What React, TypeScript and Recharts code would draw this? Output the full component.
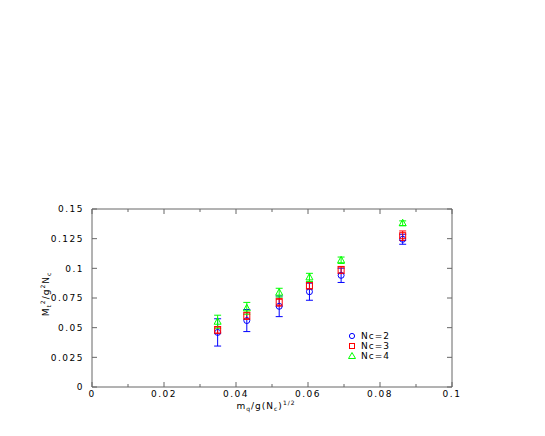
import React from "react";
import {
  ErrorBar,
  Legend,
  ReferenceArea,
  Scatter,
  ScatterChart,
  XAxis,
  YAxis,
} from "recharts";

// quark mass (x) shared by all three sets
const xValues = [0.0349, 0.043, 0.052, 0.0604, 0.0692, 0.0863];

const nc2Values = [0.046, 0.056, 0.068, 0.0803, 0.0941, 0.1245];
const nc2Errors = [0.0115, 0.0093, 0.0087, 0.0072, 0.006, 0.0042];

const nc3Values = [0.048, 0.06, 0.0714, 0.0854, 0.0986, 0.1275];
const nc3Errors = [0.003, 0.003, 0.0033, 0.003, 0.003, 0.004];

const nc4Values = [0.055, 0.0663, 0.0795, 0.0924, 0.1068, 0.138];
const nc4Errors = [0.0055, 0.005, 0.0037, 0.0034, 0.0027, 0.002];

const seriesNames = ["Nc=2", "Nc=3", "Nc=4"];

const xMajorTicks = [0, 0.02, 0.04, 0.06, 0.08, 0.1];
const xMinorTicks = [0.01, 0.03, 0.05, 0.07, 0.09];
const yTicks = [0, 0.025, 0.05, 0.075, 0.1, 0.125, 0.15];

const WIDTH = 545;
const HEIGHT = 436;
const PLOT_LEFT = 92;
const PLOT_RIGHT = 452;
const PLOT_TOP = 209;
const PLOT_BOTTOM = 387;

const FONT = "'DejaVu Sans', sans-serif";
const AXIS = "#666";
const BLUE = "#0000ff";
const RED = "#ff0000";
const GREEN = "#00ff00";

function toRows(values: number[], errors: number[]) {
  return xValues.map((x, i) => ({ x, y: values[i], err: errors[i] }));
}

const nc2Data = toRows(nc2Values, nc2Errors);
const nc3Data = toRows(nc3Values, nc3Errors);
const nc4Data = toRows(nc4Values, nc4Errors);

function fmt(v: number) {
  return String(Number(v.toFixed(3)));
}

function XTick(props: any) {
  const { x, y, payload } = props;
  const v = payload.value as number;
  const major = xMajorTicks.some((t) => Math.abs(t - v) < 1e-9);
  const len = major ? 5 : 3;
  return (
    <g>
      <line x1={x} x2={x} y1={PLOT_BOTTOM} y2={PLOT_BOTTOM - len} stroke={AXIS} />
      <line x1={x} x2={x} y1={PLOT_TOP} y2={PLOT_TOP + len} stroke={AXIS} />
      {major && (
        <text
          x={x}
          y={y}
          dy="0.71em"
          textAnchor="middle"
          fontFamily={FONT}
          fontSize={9}
          letterSpacing={1.5}
          fill="#000"
        >
          {fmt(v)}
        </text>
      )}
    </g>
  );
}

function YTick(props: any) {
  const { x, y, payload } = props;
  return (
    <g>
      <line x1={PLOT_LEFT} x2={PLOT_LEFT + 5} y1={y} y2={y} stroke={AXIS} />
      <line x1={PLOT_RIGHT} x2={PLOT_RIGHT - 5} y1={y} y2={y} stroke={AXIS} />
      <text
        x={x}
        y={y}
        dy="0.355em"
        textAnchor="end"
        fontFamily={FONT}
        fontSize={9}
        letterSpacing={1.5}
        fill="#000"
      >
        {fmt(payload.value)}
      </text>
    </g>
  );
}

function XTitle() {
  return (
    <text
      x={266}
      y={409}
      textAnchor="middle"
      fontFamily={FONT}
      fontSize={9}
      letterSpacing={1}
      fill="#000"
    >
      m<tspan fontSize={6} dy={2}>q</tspan>
      <tspan dy={-2}>/g(N</tspan>
      <tspan fontSize={6} dy={2}>c</tspan>
      <tspan dy={-2}>)</tspan>
      <tspan fontSize={6} dy={-4}>1/2</tspan>
    </text>
  );
}

function YTitle() {
  const cx = 49;
  const cy = 294;
  return (
    <text
      x={cx}
      y={cy}
      transform={`rotate(-90 ${cx} ${cy})`}
      textAnchor="middle"
      fontFamily={FONT}
      fontSize={9}
      letterSpacing={1}
      fill="#000"
    >
      M<tspan fontSize={6} dy={2}>t</tspan>
      <tspan fontSize={6} dy={-6}>2</tspan>
      <tspan dy={4}>/g</tspan>
      <tspan fontSize={6} dy={-4}>2</tspan>
      <tspan dy={4}>N</tspan>
      <tspan fontSize={6} dy={2}>c</tspan>
    </text>
  );
}

function CircleMark(props: any) {
  const { cx, cy } = props;
  return <circle cx={cx} cy={cy} r={3} fill="none" stroke={BLUE} strokeWidth={1} />;
}

function SquareMark(props: any) {
  const { cx, cy } = props;
  return (
    <rect x={cx - 3} y={cy - 3} width={6} height={6} fill="none" stroke={RED} strokeWidth={1} />
  );
}

function TriangleMark(props: any) {
  const { cx, cy } = props;
  return (
    <polygon
      points={`${cx},${cy - 4} ${cx + 3.5},${cy + 2.5} ${cx - 3.5},${cy + 2.5}`}
      fill="none"
      stroke={GREEN}
      strokeWidth={1}
    />
  );
}

function LegendIcon({ index }: { index: number }) {
  if (index === 0) {
    return <circle cx={4} cy={5} r={2.6} fill="none" stroke={BLUE} />;
  }
  if (index === 1) {
    return <rect x={1.5} y={2.5} width={5} height={5} fill="none" stroke={RED} />;
  }
  return <polygon points="4,1.5 7.5,7.5 0.5,7.5" fill="none" stroke={GREEN} />;
}

function LegendBox() {
  return (
    <div style={{ fontFamily: FONT, fontSize: 9, letterSpacing: 1, color: "#000" }}>
      {seriesNames.map((name, i) => (
        <div
          key={name}
          style={{ display: "flex", alignItems: "center", height: 10, lineHeight: "10px" }}
        >
          <svg width={8} height={10} style={{ display: "block" }}>
            <LegendIcon index={i} />
          </svg>
          <span style={{ marginLeft: 5, whiteSpace: "nowrap" }}>{name}</span>
        </div>
      ))}
    </div>
  );
}

export default function App() {
  return (
    <div style={{ position: "absolute", left: 0, top: 0, width: WIDTH, height: HEIGHT, background: "#fff" }}>
      <ScatterChart
        width={WIDTH}
        height={HEIGHT}
        margin={{ top: PLOT_TOP, right: WIDTH - PLOT_RIGHT, bottom: HEIGHT - PLOT_BOTTOM - 30, left: PLOT_LEFT - 60 }}
      >
        <XAxis
          type="number"
          dataKey="x"
          domain={[0, 0.1]}
          ticks={[...xMajorTicks, ...xMinorTicks].sort((a, b) => a - b)}
          interval={0}
          tick={<XTick />}
          tickLine={false}
          axisLine={false}
          tickSize={0}
          tickMargin={4}
          height={30}
          label={<XTitle />}
        />
        <YAxis
          type="number"
          dataKey="y"
          domain={[0, 0.15]}
          ticks={yTicks}
          interval={0}
          tick={<YTick />}
          tickLine={false}
          axisLine={false}
          tickSize={0}
          tickMargin={8}
          width={60}
          label={<YTitle />}
        />
        <ReferenceArea x1={0} x2={0.1} y1={0} y2={0.15} fill="none" stroke={AXIS} strokeWidth={1} />
        <Scatter name={seriesNames[0]} data={nc2Data} shape={CircleMark} isAnimationActive={false}>
          <ErrorBar dataKey="err" direction="y" width={3.5} stroke={BLUE} strokeWidth={1} isAnimationActive={false} />
        </Scatter>
        <Scatter name={seriesNames[1]} data={nc3Data} shape={SquareMark} isAnimationActive={false}>
          <ErrorBar dataKey="err" direction="y" width={3.5} stroke={RED} strokeWidth={1} isAnimationActive={false} />
        </Scatter>
        <Scatter name={seriesNames[2]} data={nc4Data} shape={TriangleMark} isAnimationActive={false}>
          <ErrorBar dataKey="err" direction="y" width={3.5} stroke={GREEN} strokeWidth={1} isAnimationActive={false} />
        </Scatter>
        <Legend
          layout="vertical"
          verticalAlign="middle"
          align="center"
          wrapperStyle={{ left: 348, top: 331, width: 60 }}
          content={() => <LegendBox />}
        />
      </ScatterChart>
    </div>
  );
}
